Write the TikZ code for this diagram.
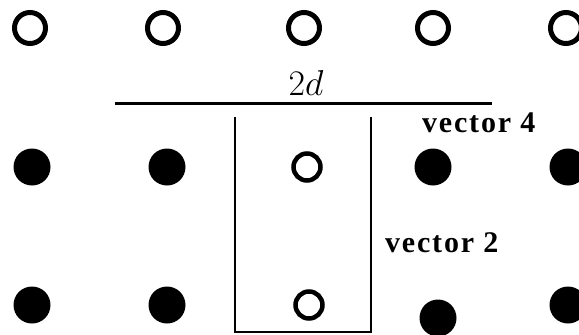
\RequirePackage{fix-cm}
\documentclass[tikz,border=0pt]{standalone}
\usepackage{fontspec}
\newfontfamily\lblfont[LetterSpace=6]{Liberation Serif}
\usetikzlibrary{positioning}

\begin{document}
\begin{tikzpicture}[
  x=1pt, y=-1pt,
  hole/.style={circle, draw, line width=5pt, minimum size=31pt, inner sep=0pt},
  smallhole/.style={circle, draw, line width=4.5pt, minimum size=27pt, inner sep=0pt},
  atom/.style={circle, fill, minimum size=37pt, inner sep=0pt},
  bar/.style={line width=3pt},
  wall/.style={line width=2.5pt},
  tag/.style={font=\lblfont\bfseries\fontsize{30}{30}\selectfont, inner sep=0pt, anchor=base west}
]
\useasboundingbox (0,0) rectangle (579,335);

%% Top row: vacancies
\node[hole] (t1) at (30,28) {};
\node[hole] (t2) at (163,28) {};
\node[hole] (t3) at (304,28) {};
\node[hole] (t4) at (433,28) {};
\node[hole] (t5) at (566,28) {};

%% Middle row
\node[atom] (m1) at (32,167) {};
\node[atom] (m2) at (167,167) {};
\node[smallhole] (m3) at (307,167) {};
\node[atom] (m4) at (433,167) {};
\node[atom] (m5) at (568,167) {};

%% Bottom row
\node[atom] (b1) at (32,305) {};
\node[atom] (b2) at (167,305) {};
\node[smallhole] (b3) at (309,305) {};
\node[atom] (b4) at (438,318) {};
\node[atom] (b5) at (568,305) {};

%% Period 2d
\coordinate (bar-l) at (115,103);
\coordinate (bar-r) at (492,103);
\draw[bar] (bar-l) -- (bar-r);
\node[font=\fontsize{36}{36}\selectfont, inner sep=0pt, anchor=base] (len) at (306,95) {$2d$};

%% Open box round the centre column
\coordinate (box-tl) at (235,117);
\coordinate (box-bl) at (235,332);
\coordinate (box-br) at (371,332);
\coordinate (box-tr) at (371,117);
\draw[wall] (box-tl) -- (box-bl) -- (box-br) -- (box-tr);

%% Labels
\node[tag] (v4) at (422,132) {vector 4};
\node[tag] (v2) at (385,252) {vector 2};

\end{tikzpicture}
\end{document}
